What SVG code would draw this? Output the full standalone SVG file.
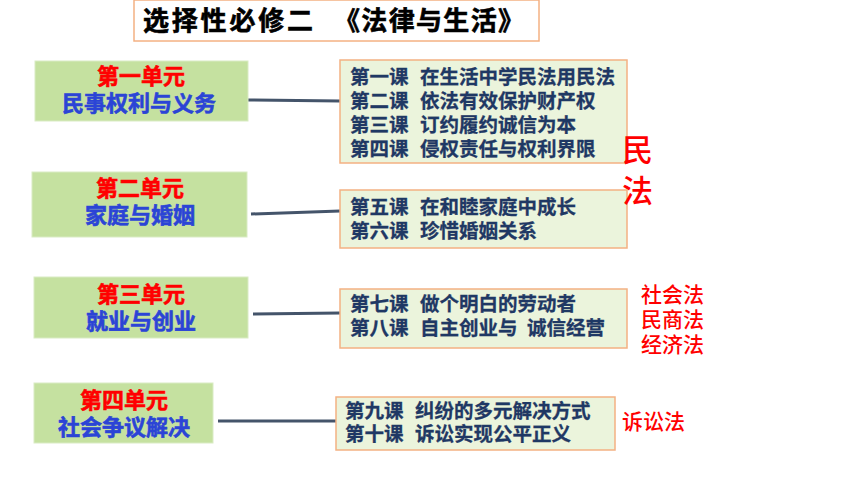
<svg xmlns="http://www.w3.org/2000/svg" width="860" height="484" viewBox="0 0 860 484">
<style>
text{font-family:"Noto Sans CJK SC","Noto Sans CJK JP",sans-serif;font-weight:bold}
.unit{fill:#c5e1a0;stroke:#d9ebc4;stroke-width:1}
.lesson{fill:#ebf4dc;stroke:#f4b183;stroke-width:1.5}
.ut{fill:#ff0000;stroke:#ff0000;stroke-width:0.6;font-size:22px;text-anchor:middle}
.ub{fill:#2b44d6;stroke:#2b44d6;stroke-width:0.6;font-size:22px;text-anchor:middle}
.lt{fill:#1f3864;stroke:#1f3864;stroke-width:0.3;font-size:19.5px}
.red{fill:#ff0000;font-weight:500}
.conn{stroke:#44546a;stroke-width:3;fill:none}
</style>
<rect width="860" height="484" fill="#ffffff"/>
<g id="title">
<rect x="134" y="0" width="405" height="41" fill="#ffffff" stroke="#f4b183" stroke-width="1.5"/>
<text y="30" font-size="26" fill="#000000" stroke="#000000" stroke-width="0.6"><tspan x="143" textLength="170" lengthAdjust="spacing">选择性必修二</tspan><tspan x="334" textLength="190" lengthAdjust="spacing">《法律与生活》</tspan></text>
</g>
<g id="connectors">
<path class="conn" d="M248 100 L340 101"/>
<path class="conn" d="M251 214 L340 211"/>
<path class="conn" d="M253 314 L340 313"/>
<path class="conn" d="M218 421 L336 421"/>
</g>
<g id="unit1">
<rect class="unit" x="35" y="61" width="213" height="60"/>
<text class="ut" x="141" y="84">第一单元</text>
<text class="ub" x="139" y="111">民事权利与义务</text>
</g>
<g id="unit2">
<rect class="unit" x="32" y="172" width="215" height="65"/>
<text class="ut" x="140" y="196">第二单元</text>
<text class="ub" x="140" y="223">家庭与婚姻</text>
</g>
<g id="unit3">
<rect class="unit" x="34" y="277" width="214" height="61"/>
<text class="ut" x="141" y="302">第三单元</text>
<text class="ub" x="141" y="329">就业与创业</text>
</g>
<g id="unit4">
<rect class="unit" x="34" y="383" width="179" height="60"/>
<text class="ut" x="124" y="408">第四单元</text>
<text class="ub" x="124" y="435">社会争议解决</text>
</g>
<g id="lesson1">
<rect class="lesson" x="340" y="60" width="287" height="103"/>
<text class="lt" y="84"><tspan x="350">第一课</tspan><tspan x="420">在生活中学民法用民法</tspan></text>
<text class="lt" y="108"><tspan x="350">第二课</tspan><tspan x="420">依法有效保护财产权</tspan></text>
<text class="lt" y="132"><tspan x="350">第三课</tspan><tspan x="420">订约履约诚信为本</tspan></text>
<text class="lt" y="156"><tspan x="350">第四课</tspan><tspan x="420">侵权责任与权利界限</tspan></text>
</g>
<g id="lesson2">
<rect class="lesson" x="340" y="190" width="287" height="58"/>
<text class="lt" y="214"><tspan x="350">第五课</tspan><tspan x="420">在和睦家庭中成长</tspan></text>
<text class="lt" y="238"><tspan x="350">第六课</tspan><tspan x="420">珍惜婚姻关系</tspan></text>
</g>
<g id="lesson3">
<rect class="lesson" x="340" y="289" width="287" height="59"/>
<text class="lt" y="311"><tspan x="350">第七课</tspan><tspan x="420">做个明白的劳动者</tspan></text>
<text class="lt" y="335"><tspan x="350">第八课</tspan><tspan x="420">自主创业与</tspan><tspan x="527">诚信经营</tspan></text>
</g>
<g id="lesson4">
<rect class="lesson" x="336" y="397" width="279" height="53"/>
<text class="lt" y="418"><tspan x="345">第九课</tspan><tspan x="415">纠纷的多元解决方式</tspan></text>
<text class="lt" y="441"><tspan x="345">第十课</tspan><tspan x="415">诉讼实现公平正义</tspan></text>
</g>
<g id="label-minfa">
<text class="red" x="622" y="161" font-size="31">民</text>
<text class="red" x="622" y="202" font-size="31">法</text>
</g>
<g id="label-shehui">
<text class="red" x="641" y="302" font-size="21">社会法</text>
<text class="red" x="641" y="327" font-size="21">民商法</text>
<text class="red" x="641" y="352" font-size="21">经济法</text>
</g>
<g id="label-susong">
<text class="red" x="622" y="429" font-size="21">诉讼法</text>
</g>
</svg>
